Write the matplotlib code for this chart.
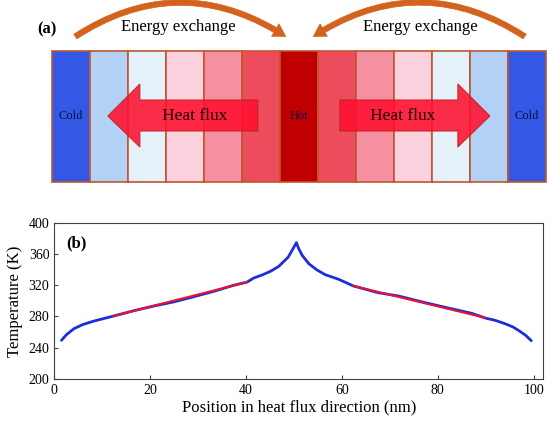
import numpy as np
import matplotlib
matplotlib.use("Agg")
import matplotlib.pyplot as plt
from matplotlib.patches import Rectangle, Polygon, FancyArrowPatch

plt.rcParams['font.family'] = ['Liberation Serif', 'DejaVu Serif']

# (a) strip colours from cold edge to hot centre to cold edge
strip_colors = ['#3458e6', '#b2d1f4', '#e5f1f8', '#fbd1de', '#f4909f', '#ec4c5c',
                '#c00000',
                '#ec4c5c', '#f4909f', '#fbd1de', '#e5f1f8', '#b2d1f4', '#3458e6']
strip_labels = ['Cold', '', '', '', '', '', 'Hot', '', '', '', '', '', 'Cold']

# (b) temperature profile
pos_nm = [1.5, 2.5, 4.1, 6.0, 8.3, 12.4, 16.6, 20.8, 24.9, 29.1, 33.3, 37.4,
          40.2, 41.6, 43.5, 45.1, 46.8, 47.9, 48.8, 49.4, 50.0, 50.5, 51.0,
          51.7, 53.1, 54.8, 56.5, 59.3, 62.4, 67.6, 71.8, 77.4, 82.2, 87.1,
          89.9, 92.0, 94.0, 95.6, 96.8, 98.3, 99.5]
temp_k = [249.5, 256.5, 264.4, 269.8, 274.2, 280.6, 287.4, 293.4, 298.6, 305.3,
          312.2, 319.9, 324.0, 329.2, 333.5, 337.8, 344.0, 350.6, 356.0, 362.5,
          369.0, 374.5, 366.5, 358.3, 347.5, 339.5, 333.5, 327.6, 319.0, 310.4,
          306.2, 297.6, 290.8, 284.0, 278.0, 275.0, 270.8, 266.8, 262.3, 256.0,
          249.0]
# linear fits (red)
fit_left_x = [12.4, 40.2]
fit_left_t = [280.8, 324.0]
fit_right_x = [62.4, 89.9]
fit_right_t = [319.0, 278.3]

W, H = 557, 423
fig = plt.figure(figsize=(W / 100, H / 100), dpi=100)

# ---- panel (a): drawn in pixel coordinates ----
ax0 = fig.add_axes([0, 0, 1, 1])
ax0.set_xlim(0, W)
ax0.set_ylim(H, 0)
ax0.axis('off')

box_l, box_r, box_t, box_b = 51.7, 546.0, 51.0, 181.7
sw = (box_r - box_l) / len(strip_colors)
for i, (c, lab) in enumerate(zip(strip_colors, strip_labels)):
    x0 = box_l + i * sw
    ax0.add_patch(Rectangle((x0, box_t), sw, box_b - box_t, facecolor=c,
                            edgecolor='#c0562e', lw=1.2))
    if lab:
        ax0.text(x0 + sw / 2, 116, lab, ha='center', va='center', fontsize=9,
                 color='#101040')

cx = (box_l + box_r) / 2
for s in (-1, 1):
    tip = cx + s * 191
    base = cx + s * 159
    shaft = cx + s * 41
    pts = [(shaft, 100), (base, 100), (base, 84), (tip, 116), (base, 147),
           (base, 131), (shaft, 131)]
    ax0.add_patch(Polygon(pts, closed=True, facecolor='#ff1030', alpha=0.88,
                          edgecolor='#c02020', lw=0.8))
    ax0.text((shaft + base) / 2 + s * 4, 116, 'Heat flux', ha='center',
             va='center', fontsize=12.5, color='#1a0000')

# energy exchange arcs
for (p0, p1, rad) in [((73, 38), (288, 38), -0.33), ((527, 38), (311, 38), 0.33)]:
    arr = FancyArrowPatch(p0, p1, connectionstyle=f'arc3,rad={rad}',
                          arrowstyle='simple,head_width=1.3,head_length=1.1,tail_width=0.5',
                          mutation_scale=8, color='#d2621c', lw=0.5)
    ax0.add_patch(arr)
ax0.text(178, 27, 'Energy exchange', ha='center', va='center', fontsize=12)
ax0.text(420, 27, 'Energy exchange', ha='center', va='center', fontsize=12)
ax0.text(47, 29, '(a)', ha='center', va='center', fontsize=12, fontweight='bold')

# ---- panel (b) ----
ax = fig.add_axes([54.3 / W, 1 - 379 / H, (543.3 - 54.3) / W, (379 - 222.7) / H])
ax.plot(pos_nm, temp_k, color='#1c2fd6', lw=2, solid_capstyle='round', zorder=2)
ax.plot(fit_left_x, fit_left_t, color='#ee1030', lw=1.5, zorder=3)
ax.plot(fit_right_x, fit_right_t, color='#ee1030', lw=1.5, zorder=3)
ax.set_xlim(0, 102)
ax.set_ylim(200, 400)
ax.set_xticks([0, 20, 40, 60, 80, 100])
ax.set_yticks([200, 240, 280, 320, 360, 400])
ax.tick_params(direction='in', length=3, labelsize=10, color='#404060')
for sp in ax.spines.values():
    sp.set_color('#404040')
ax.set_xlabel('Position in heat flux direction (nm)', fontsize=12, labelpad=2)
ax.set_ylabel('Temperature (K)', fontsize=12, labelpad=4)
ax.text(0.025, 0.87, '(b)', transform=ax.transAxes, fontsize=12,
        fontweight='bold', va='center')

fig.savefig('out.png', dpi=100)
